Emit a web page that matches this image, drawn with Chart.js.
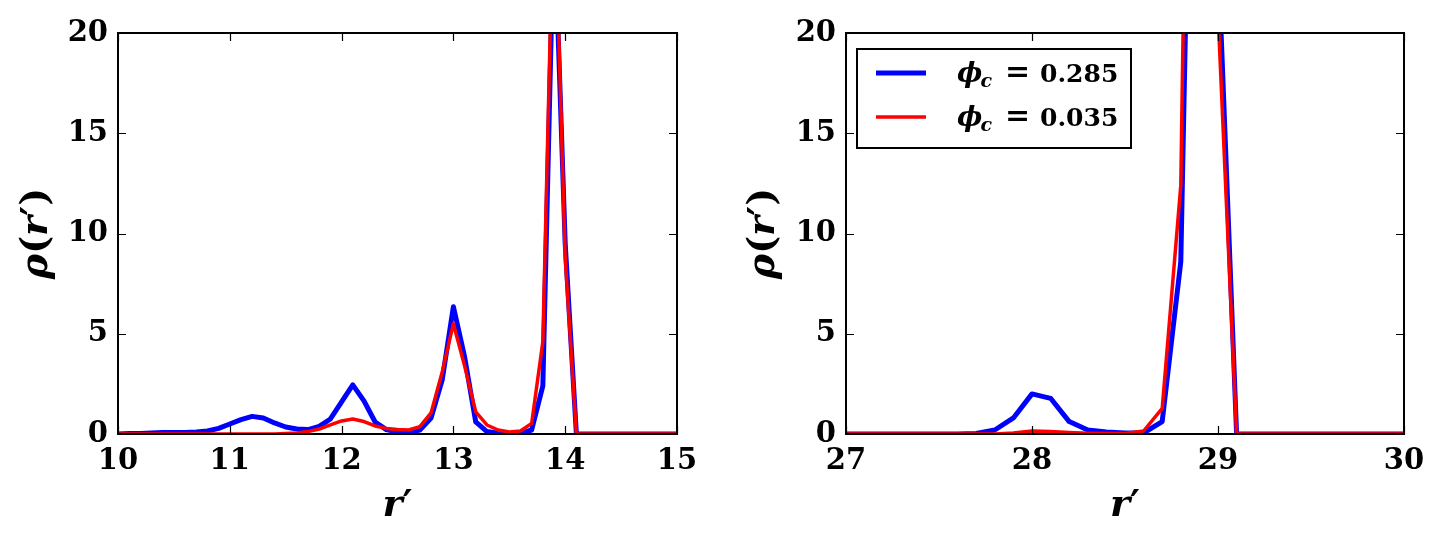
<!DOCTYPE html>
<html><head><meta charset="utf-8">
<script src="https://cdn.jsdelivr.net/npm/chart.js@4.4.1/dist/chart.umd.min.js"></script>
<style>
html,body{margin:0;padding:0;background:#fff;}
#wrap{position:relative;width:1442px;height:542px;overflow:hidden;}
.pane{position:absolute;top:0;width:721px;height:542px;}
</style></head><body>
<div id="wrap">
<div class="pane" style="left:0"><canvas id="c1" width="721" height="542"></canvas></div>
<div class="pane" style="left:721px"><canvas id="c2" width="721" height="542"></canvas></div>
</div>
<script>
// ---- data ----
const rLeft = [10.0,10.1,10.2,10.3,10.4,10.5,10.6,10.7,10.8,10.9,
  11.0,11.1,11.2,11.3,11.4,11.5,11.6,11.7,11.8,11.9,
  12.0,12.1,12.2,12.3,12.4,12.5,12.6,12.7,12.8,12.9,
  13.0,13.1,13.2,13.3,13.4,13.5,13.6,13.7,13.8,13.9,
  14.0,14.1,14.2,14.3,14.4,14.5,14.6,14.7,14.8,14.9,15.0];
const rhoLeft285 = [0.0,0.02,0.03,0.05,0.07,0.08,0.08,0.1,0.15,0.28,
  0.5,0.72,0.88,0.8,0.55,0.35,0.25,0.22,0.38,0.75,
  1.6,2.45,1.65,0.6,0.22,0.1,0.08,0.2,0.8,2.7,
  6.35,3.85,0.6,0.12,0.04,0.02,0.03,0.2,2.4,26,
  9.5,0,0,0,0,0,0,0,0,0,0];
const rhoLeft035 = [0,0,0,0,0,0,0,0,0,0,
  0,0,0,0,0,0.02,0.05,0.12,0.25,0.45,
  0.65,0.75,0.62,0.4,0.28,0.22,0.2,0.37,1.05,3.1,
  5.5,3.4,1.1,0.45,0.2,0.1,0.15,0.53,4.6,28,
  8.8,0,0,0,0,0,0,0,0,0,0];
const rRight = [27.0,27.1,27.2,27.3,27.4,27.5,27.6,27.7,27.8,27.9,
  28.0,28.1,28.2,28.3,28.4,28.5,28.6,28.7,28.8,28.9,
  29.0,29.1,29.2,29.3,29.4,29.5,29.6,29.7,29.8,29.9,30.0];
const rhoRight285 = [0,0,0,0,0,0,0,0.03,0.2,0.8,
  2.0,1.78,0.62,0.2,0.1,0.05,0.05,0.62,8.6,55,
  24,0,0,0,0,0,0,0,0,0,0];
const rhoRight035 = [0,0,0,0,0,0,0,0,0,0.05,
  0.15,0.12,0.07,0.04,0.03,0.03,0.15,1.28,12.4,75,
  21,0,0,0,0,0,0,0,0,0,0];
const xTicksLeft = [10,11,12,13,14,15];
const xTicksRight = [27,28,29,30];
const yTicks = [0,5,10,15,20];
const seriesLabels = ['0.285','0.035'];
const seriesColors = ['#0000ff','#ff0000'];
const seriesWidths = [5,3.5];

const FONT = '"DejaVu Serif", serif';

function pts(xs, ys){ return xs.map((x,i)=>({x:x, y:ys[i]})); }

function pieces(ctx, parts, size){
  let w = 0;
  parts.forEach(p=>{ ctx.font = p[1] + ' ' + size + 'px ' + FONT; w += ctx.measureText(p[0]).width; });
  return w;
}
function drawPieces(ctx, parts, size, x, y){
  parts.forEach(p=>{ ctx.font = p[1] + ' ' + size + 'px ' + FONT; ctx.fillText(p[0], x, y); x += ctx.measureText(p[0]).width; });
}

const framePlugin = {
  id:'frame',
  afterDatasetsDraw(chart){
    const {ctx, chartArea:a, scales:{x, y}} = chart;
    ctx.save();
    ctx.strokeStyle = '#000';
    ctx.lineWidth = 1.2;
    const L = 8;
    ctx.beginPath();
    x.ticks.forEach(t=>{
      const px = Math.round(x.getPixelForValue(t.value))+0.5;
      ctx.moveTo(px, a.bottom); ctx.lineTo(px, a.bottom-L);
      ctx.moveTo(px, a.top); ctx.lineTo(px, a.top+L);
    });
    y.ticks.forEach(t=>{
      const py = Math.round(y.getPixelForValue(t.value))+0.5;
      ctx.moveTo(a.left, py); ctx.lineTo(a.left+L, py);
      ctx.moveTo(a.right, py); ctx.lineTo(a.right-L, py);
    });
    ctx.stroke();
    ctx.lineWidth = 2;
    ctx.strokeRect(a.left, a.top, a.right-a.left, a.bottom-a.top);
    ctx.restore();
  },
  afterDraw(chart){
    const {ctx, chartArea:a} = chart;
    ctx.save();
    ctx.fillStyle = '#000';
    ctx.textBaseline = 'alphabetic';
    const xt = [['r','italic bold'],['′','bold']];
    const size = 38;
    let w = pieces(ctx, xt, size);
    drawPieces(ctx, xt, size, (a.left + a.right)/2 - w/2, 516);
    const yt = [['ρ','italic bold'],['(','bold'],['r','italic bold'],['′','bold'],[')','bold']];
    w = pieces(ctx, yt, size);
    ctx.translate(chart.options.plugins.frame.yTitleX, (a.top + a.bottom)/2);
    ctx.rotate(-Math.PI/2);
    drawPieces(ctx, yt, size, -w/2, 0);
    ctx.restore();
  }
};

const legendPlugin = {
  id:'inLegend',
  afterDraw(chart, args, opts){
    if(!opts || !opts.show) return;
    const ctx = chart.ctx;
    const a = chart.chartArea;
    const bx = a.left + 11, by = a.top + 16, bw = 274, bh = 99;
    ctx.save();
    ctx.fillStyle = '#fff';
    ctx.fillRect(bx, by, bw, bh);
    ctx.strokeStyle = '#000';
    ctx.lineWidth = 2;
    ctx.strokeRect(bx, by, bw, bh);
    const ds = chart.data.datasets;
    const rows = [by+24, by+68];
    ds.forEach((d, i)=>{
      const yy = rows[i];
      ctx.strokeStyle = d.borderColor;
      ctx.lineWidth = d.borderWidth;
      ctx.beginPath();
      ctx.moveTo(bx+19, yy); ctx.lineTo(bx+69, yy);
      ctx.stroke();
      ctx.fillStyle = '#000';
      ctx.textBaseline = 'alphabetic';
      const base = yy + 9;
      ctx.font = 'italic bold 27px ' + FONT;
      ctx.fillText('ϕ', bx + 100, base);
      const fw = ctx.measureText('ϕ').width;
      ctx.font = 'italic bold 19px ' + FONT;
      ctx.fillText('c', bx + 100 + fw - 2, base + 5);
      ctx.font = 'bold 30px ' + FONT;
      ctx.fillText('=', bx + 148, base - 1);
      ctx.font = 'bold 25px ' + FONT;
      ctx.fillText(d.label, bx + 183, base);
    });
    ctx.restore();
  }
};

function makeChart(id, xs, yb, yr, xmin, xmax, xticks, yWidth, padRight, showLegend, yTitleX){
  const tickFont = {family: FONT, size: 29, weight: 'bold'};
  return new Chart(document.getElementById(id), {
    type: 'line',
    data: {
      datasets: [
        {label: seriesLabels[0], data: pts(xs, yb), borderColor: seriesColors[0], borderWidth: seriesWidths[0], order: 1},
        {label: seriesLabels[1], data: pts(xs, yr), borderColor: seriesColors[1], borderWidth: seriesWidths[1], order: 0}
      ]
    },
    options: {
      responsive: false, animation: false, devicePixelRatio: 1,
      parsing: false,
      elements: {
        point: {radius: 0, hoverRadius: 0},
        line: {tension: 0, fill: false, borderJoinStyle: 'round', borderCapStyle: 'butt'}
      },
      datasets: {line: {clip: 0}},
      layout: {padding: {top: 33, right: padRight, left: 0, bottom: 0}},
      plugins: {legend: {display: false}, tooltip: {enabled: false}, inLegend: {show: showLegend}, frame: {yTitleX: yTitleX}},
      scales: {
        x: {
          type: 'linear', min: xmin, max: xmax,
          afterBuildTicks: s => { s.ticks = xticks.map(v => ({value: v})); },
          ticks: {font: tickFont, color: '#000', padding: 10, maxRotation: 0, autoSkip: false},
          grid: {display: false, drawTicks: false},
          border: {display: false},
          afterFit: s => { s.height = 108; }
        },
        y: {
          type: 'linear', min: 0, max: 20,
          afterBuildTicks: s => { s.ticks = yTicks.map(v => ({value: v})); },
          ticks: {font: tickFont, color: '#000', padding: 10},
          grid: {display: false, drawTicks: false},
          border: {display: false},
          afterFit: s => { s.width = yWidth; }
        }
      }
    },
    plugins: [framePlugin, legendPlugin]
  });
}

makeChart('c1', rLeft, rhoLeft285, rhoLeft035, 10, 15, xTicksLeft, 118, 44, false, 47);
makeChart('c2', rRight, rhoRight285, rhoRight035, 27, 30, xTicksRight, 125, 38, true, 53);
</script>
</body></html>
